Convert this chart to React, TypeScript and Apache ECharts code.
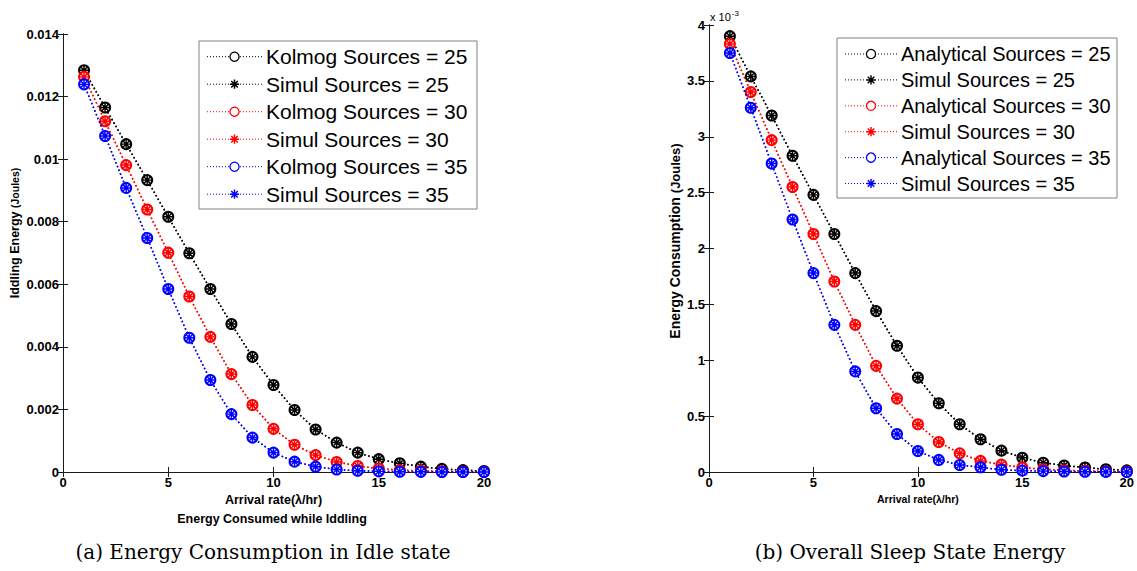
import React, { useEffect, useRef } from "react";
import * as echarts from "echarts";

// ---------- data ----------
const arrivalRates = [1, 2, 3, 4, 5, 6, 7, 8, 9, 10, 11, 12, 13, 14, 15, 16, 17, 18, 19, 20];

// (a) idle energy, Joules
const idleKolmog25 = [0.01284, 0.01165, 0.01048, 0.00933, 0.00816, 0.00699, 0.00585, 0.00473, 0.00368, 0.00278, 0.00198, 0.00136, 0.00094, 0.00062, 0.00041, 0.00028, 0.00017, 0.0001, 0.00006, 0.00003];
const idleSimul25 = [0.01284, 0.01165, 0.01048, 0.00933, 0.00816, 0.00699, 0.00585, 0.00473, 0.00368, 0.00278, 0.00198, 0.00136, 0.00094, 0.00062, 0.00041, 0.00028, 0.00017, 0.0001, 0.00006, 0.00003];
const idleKolmog30 = [0.01263, 0.01121, 0.00981, 0.00839, 0.00701, 0.00561, 0.00432, 0.00313, 0.00214, 0.00138, 0.00087, 0.00054, 0.00032, 0.00019, 0.00011, 0.00006, 0.00004, 0.00002, 0.00001, 0.000005];
const idleSimul30 = [0.01263, 0.01121, 0.00981, 0.00839, 0.00701, 0.00561, 0.00432, 0.00313, 0.00214, 0.00138, 0.00087, 0.00054, 0.00032, 0.00019, 0.00011, 0.00006, 0.00004, 0.00002, 0.00001, 0.000005];
const idleKolmog35 = [0.01239, 0.01074, 0.00908, 0.00748, 0.00585, 0.00429, 0.00294, 0.00185, 0.0011, 0.00062, 0.00033, 0.00017, 0.00008, 0.00004, 0.00002, 0.00001, 0.000005, 0, 0, 0];
const idleSimul35 = [0.01239, 0.01074, 0.00908, 0.00748, 0.00585, 0.00429, 0.00294, 0.00185, 0.0011, 0.00062, 0.00033, 0.00017, 0.00008, 0.00004, 0.00002, 0.00001, 0.000005, 0, 0, 0];

// (b) sleep energy, x 10^-3 Joules
const sleepAnalytical25 = [3.9, 3.54, 3.19, 2.83, 2.48, 2.13, 1.78, 1.44, 1.13, 0.845, 0.615, 0.427, 0.293, 0.191, 0.128, 0.083, 0.058, 0.04, 0.025, 0.015];
const sleepSimul25 = [3.9, 3.54, 3.19, 2.83, 2.48, 2.13, 1.78, 1.44, 1.13, 0.845, 0.615, 0.427, 0.293, 0.191, 0.128, 0.083, 0.058, 0.04, 0.025, 0.015];
const sleepAnalytical30 = [3.83, 3.4, 2.97, 2.55, 2.13, 1.705, 1.317, 0.95, 0.657, 0.427, 0.269, 0.167, 0.099, 0.066, 0.04, 0.025, 0.015, 0.01, 0.005, 0.003];
const sleepSimul30 = [3.83, 3.4, 2.97, 2.55, 2.13, 1.705, 1.317, 0.95, 0.657, 0.427, 0.269, 0.167, 0.099, 0.066, 0.04, 0.025, 0.015, 0.01, 0.005, 0.003];
const sleepAnalytical35 = [3.75, 3.26, 2.76, 2.26, 1.78, 1.317, 0.9, 0.57, 0.34, 0.188, 0.108, 0.063, 0.042, 0.02, 0.012, 0.008, 0.005, 0.002, 0.001, 0];
const sleepSimul35 = [3.75, 3.26, 2.76, 2.26, 1.78, 1.317, 0.9, 0.57, 0.34, 0.188, 0.108, 0.063, 0.042, 0.02, 0.012, 0.008, 0.005, 0.002, 0.001, 0];

const leftNames = ["Kolmog Sources = 25", "Simul Sources = 25", "Kolmog Sources = 30", "Simul Sources = 30", "Kolmog Sources = 35", "Simul Sources = 35"];
const rightNames = ["Analytical Sources = 25", "Simul Sources = 25 ", "Analytical Sources = 30", "Simul Sources = 30 ", "Analytical Sources = 35", "Simul Sources = 35 "];
const leftValues = [idleKolmog25, idleSimul25, idleKolmog30, idleSimul30, idleKolmog35, idleSimul35];
const rightValues = [sleepAnalytical25, sleepSimul25, sleepAnalytical30, sleepSimul30, sleepAnalytical35, sleepSimul35];

// ---------- styles ----------
const COLORS = ["#000000", "#000000", "#ff0000", "#ff0000", "#0000ff", "#0000ff"];
const KINDS = ["circle", "star", "circle", "star", "circle", "star"];
const SANS = "'Liberation Sans', Arial, Helvetica, sans-serif";
const SERIF = "'DejaVu Serif', 'Liberation Serif', serif";
const AST =
  "M-1.6,-10L1.6,-10L1.6,10L-1.6,10Z M-10,-1.6L10,-1.6L10,1.6L-10,1.6Z M-5.94,-8.2L8.2,5.94L5.94,8.2L-8.2,-5.94Z M8.2,-5.94L-5.94,8.2L-8.2,5.94L5.94,-8.2Z";

echarts.graphic.registerShape("asterisk", echarts.graphic.extendPath(AST, {}) as any);

function makeSeries(names: string[], values: number[][], axisIdx: number) {
  return names.map((name, i) => {
    const color = COLORS[i];
    const isCircle = KINDS[i] === "circle";
    return {
      type: "line",
      name,
      xAxisIndex: axisIdx,
      yAxisIndex: axisIdx,
      data: arrivalRates.map((x, j) => [x, values[i][j]]),
      symbol: isCircle ? "emptyCircle" : "path://" + AST,
      symbolSize: isCircle ? 10 : 9,
      showSymbol: true,
      silent: true,
      lineStyle: { color, width: 1.5, type: [1.5, 2.5] },
      itemStyle: { color, borderColor: color, borderWidth: isCircle ? 2 : 0 },
      emphasis: { disabled: true },
      z: 2 + i,
    };
  });
}

function legendGraphics(
  names: string[],
  box: { x: number; y: number; w: number; h: number },
  row0: number,
  step: number,
  lx1: number,
  lx2: number,
  tx: number,
  fontSize: number
) {
  const els: any[] = [
    {
      type: "rect",
      shape: { x: box.x, y: box.y, width: box.w, height: box.h },
      style: { fill: "#ffffff", stroke: "#808080", lineWidth: 1 },
      z: 50,
    },
  ];
  names.forEach((name, i) => {
    const y = row0 + i * step;
    const color = COLORS[i];
    const mx = (lx1 + lx2) / 2;
    els.push({
      type: "line",
      shape: { x1: lx1, y1: y, x2: lx2, y2: y },
      style: { stroke: color, lineWidth: 1, lineDash: [1, 2] },
      z: 51,
    });
    if (KINDS[i] === "circle") {
      els.push({
        type: "circle",
        shape: { cx: mx, cy: y, r: 4.6 },
        style: { fill: "#ffffff", stroke: color, lineWidth: 1.3 },
        z: 52,
      });
    } else {
      els.push({
        type: "asterisk",
        x: mx,
        y,
        scaleX: 0.46,
        scaleY: 0.46,
        style: { fill: color },
        z: 52,
      });
    }
    els.push({
      type: "text",
      x: tx,
      y,
      style: {
        text: name.trim(),
        fontSize,
        fontFamily: SANS,
        fill: "#000",
        align: "left",
        verticalAlign: "middle",
      },
      z: 52,
    });
  });
  return els;
}

const tickLabel = { fontSize: 13, fontWeight: "bold", color: "#000", fontFamily: SANS };
const axisLineStyle = { lineStyle: { color: "#1a1a1a", width: 1 } };

function xAxes(gridIndex: number, nameSize: number, nameGap: number) {
  return [
    {
      type: "value",
      gridIndex,
      min: 0,
      max: 20,
      interval: 5,
      position: "bottom",
      axisLine: axisLineStyle,
      axisTick: { inside: true, length: 5, lineStyle: { color: "#1a1a1a" } },
      axisLabel: { ...tickLabel, margin: 4 },
      splitLine: { show: false },
      name: "Arrival rate(λ/hr)",
      nameLocation: "middle",
      nameGap,
      nameTextStyle: { fontSize: nameSize, fontWeight: "bold", color: "#000", fontFamily: SANS },
    },
    {
      type: "value",
      gridIndex,
      min: 0,
      max: 20,
      interval: 5,
      position: "top",
      axisLine: axisLineStyle,
      axisTick: { inside: true, length: 5, lineStyle: { color: "#1a1a1a" } },
      axisLabel: { show: false },
      splitLine: { show: false },
    },
  ];
}

function yAxes(gridIndex: number, max: number, interval: number, fmt: (v: number) => string) {
  return [
    {
      type: "value",
      gridIndex,
      min: 0,
      max,
      interval,
      position: "left",
      axisLine: { show: true, ...axisLineStyle },
      axisTick: { show: true, inside: true, length: 5, lineStyle: { color: "#1a1a1a" } },
      axisLabel: { ...tickLabel, margin: 4, formatter: fmt },
      splitLine: { show: false },
    },
    {
      type: "value",
      gridIndex,
      min: 0,
      max,
      interval,
      position: "right",
      axisLine: { show: true, ...axisLineStyle },
      axisTick: { show: true, inside: true, length: 5, lineStyle: { color: "#1a1a1a" } },
      axisLabel: { show: false },
      splitLine: { show: false },
    },
  ];
}

export default function App() {
  const ref = useRef<HTMLDivElement>(null);

  useEffect(() => {
    if (!ref.current) return;
    const chart = echarts.init(ref.current, null, { renderer: "svg" });
    const option: any = {
      animation: false,
      backgroundColor: "#ffffff",
      grid: [
        { left: 63, top: 34, width: 421, height: 438 },
        { left: 709, top: 25, width: 422, height: 447 },
      ],
      xAxis: [...xAxes(0, 12.5, 21), ...xAxes(1, 10.5, 19)],
      yAxis: [
        ...yAxes(0, 0.014, 0.002, (v: number) => String(parseFloat(v.toFixed(3)))),
        ...yAxes(1, 4, 0.5, (v: number) => String(parseFloat(v.toFixed(1)))),
      ],
      series: [...makeSeries(leftNames, leftValues, 0), ...makeSeries(rightNames, rightValues, 2)],
      graphic: [
        {
          type: "text",
          x: 15,
          y: 233,
          rotation: Math.PI / 2,
          style: {
            text: "{a|Iddling Energy }{b|(Joules)}",
            align: "center",
            verticalAlign: "middle",
            fill: "#000",
            rich: {
              a: { fontSize: 12.5, fontWeight: "bold", fontFamily: SANS, fill: "#000" },
              b: { fontSize: 10.5, fontWeight: "bold", fontFamily: SANS, fill: "#000" },
            },
          },
        },
        {
          type: "text",
          x: 675,
          y: 241,
          rotation: Math.PI / 2,
          style: {
            text: "{a|Energy Consumption }{b|(Joules)}",
            align: "center",
            verticalAlign: "middle",
            fill: "#000",
            rich: {
              a: { fontSize: 14, fontWeight: "bold", fontFamily: SANS, fill: "#000" },
              b: { fontSize: 13, fontWeight: "bold", fontFamily: SANS, fill: "#000" },
            },
          },
        },
        {
          type: "text",
          x: 272,
          y: 519,
          style: {
            text: "Energy Consumed while Iddling",
            fontSize: 12.5,
            fontWeight: "bold",
            fontFamily: SANS,
            fill: "#000",
            align: "center",
            verticalAlign: "middle",
          },
        },
        {
          type: "text",
          x: 710,
          y: 17,
          style: {
            text: "{a|x 10}{b|-3}",
            align: "left",
            verticalAlign: "middle",
            rich: {
              a: { fontSize: 11, fontFamily: SANS, fill: "#000" },
              b: { fontSize: 8, fontFamily: SANS, fill: "#000", verticalAlign: "top", padding: [0, 0, 8, 1] },
            },
          },
        },
        {
          type: "text",
          x: 263,
          y: 552,
          style: {
            text: "(a) Energy Consumption in Idle state",
            fontSize: 20,
            fontFamily: SERIF,
            fill: "#000",
            align: "center",
            verticalAlign: "middle",
          },
        },
        {
          type: "text",
          x: 910,
          y: 552,
          style: {
            text: "(b) Overall Sleep State Energy",
            fontSize: 20,
            fontFamily: SERIF,
            fill: "#000",
            align: "center",
            verticalAlign: "middle",
          },
        },
        ...legendGraphics(leftNames, { x: 199, y: 41, w: 278, h: 168 }, 56.7, 27.5, 207, 262, 266, 21),
        ...legendGraphics(rightNames, { x: 837, y: 38, w: 280, h: 160 }, 54, 25.9, 845, 897, 901, 20),
      ],
    };
    chart.setOption(option);
    return () => {
      chart.dispose();
    };
  }, []);

  return (
    <div
      ref={ref}
      style={{ position: "absolute", left: 0, top: 0, width: 1137, height: 571, background: "#fff" }}
    />
  );
}
